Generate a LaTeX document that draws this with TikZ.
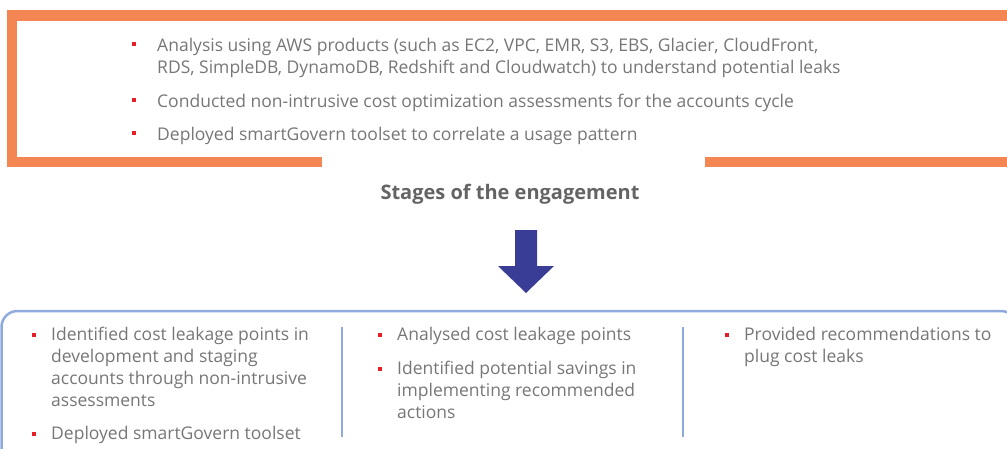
\documentclass[tikz,border=0pt]{standalone}
\usepackage{fontspec}
\setmainfont{Open Sans}
\definecolor{frameorange}{RGB}{244,134,84}
\definecolor{boxblue}{RGB}{143,170,220}
\definecolor{arrowblue}{RGB}{57,61,150}
\definecolor{bodygray}{RGB}{118,118,118}
\definecolor{titlegray}{RGB}{100,100,100}
\definecolor{bulletred}{RGB}{230,30,40}
\tikzset{
  txt/.style={anchor=base west, inner sep=0pt, text=bodygray, font=\fontsize{17.5}{20}\selectfont},
  bul/.style={fill=bulletred, draw=none, minimum size=4pt, inner sep=0pt},
  bandorange/.style={fill=frameorange, draw=none},
  divider/.style={draw=boxblue, line width=2.5pt},
}
\begin{document}
\begin{tikzpicture}[x=1pt,y=-1pt]
\useasboundingbox (0,0) rectangle (1007,448);
% orange frame
\fill[bandorange] (7,10) rectangle (1007,21);
\fill[bandorange] (7,10) rectangle (17,167);
\fill[bandorange] (7,157) rectangle (322,167);
\fill[bandorange] (705,157) rectangle (1007,167);
% top bullets
\node[bul] (tb1) at (134,44) {};
\node[txt] (t1a) at (157,51) {Analysis using AWS products (such as EC2, VPC, EMR, S3, EBS, Glacier, CloudFront,};
\node[txt] (t1b) at (157,73) {RDS, SimpleDB, DynamoDB, Redshift and Cloudwatch) to understand potential leaks};
\node[bul] (tb2) at (134,100) {};
\node[txt] (t2) at (157,107) {Conducted non-intrusive cost optimization assessments for the accounts cycle};
\node[bul] (tb3) at (134,133) {};
\node[txt] (t3) at (157,140) {Deployed smartGovern toolset to correlate a usage pattern};
% title
\node[anchor=base, inner sep=0pt, text=titlegray, font=\fontsize{20}{24}\selectfont\bfseries] (title) at (510,199) {Stages of the engagement};
% arrow
\fill[arrowblue] (515,230) -- (537,230) -- (537,266) -- (554,266) -- (526,293) -- (498,266) -- (515,266) -- cycle;
% blue box
\draw[boxblue, line width=2.5pt, rounded corners=16pt] (1.5,470) -- (1.5,311) -- (1017,311) -- (1017,470);
\draw[divider] (342,327) -- (342,437);
\draw[divider] (683,327) -- (683,437);
% column 1
\node[bul] (b1) at (34,335) {};
\node[txt] (c1a) at (51,340) {Identified cost leakage points in};
\node[txt] (c1b) at (51,362) {development and staging};
\node[txt] (c1c) at (51,384) {accounts through non-intrusive};
\node[txt] (c1d) at (51,406) {assessments};
\node[bul] (b2) at (34,434) {};
\node[txt] (c1e) at (51,439) {Deployed smartGovern toolset};
% column 2
\node[bul] (b3) at (380,335) {};
\node[txt] (c2a) at (397,340) {Analysed cost leakage points};
\node[bul] (b4) at (380,369) {};
\node[txt] (c2b) at (397,374) {Identified potential savings in};
\node[txt] (c2c) at (397,396) {implementing recommended};
\node[txt] (c2d) at (397,418) {actions};
% column 3
\node[bul] (b5) at (727,335) {};
\node[txt] (c3a) at (744,340) {Provided recommendations to};
\node[txt] (c3b) at (744,362) {plug cost leaks};
\end{tikzpicture}
\end{document}
